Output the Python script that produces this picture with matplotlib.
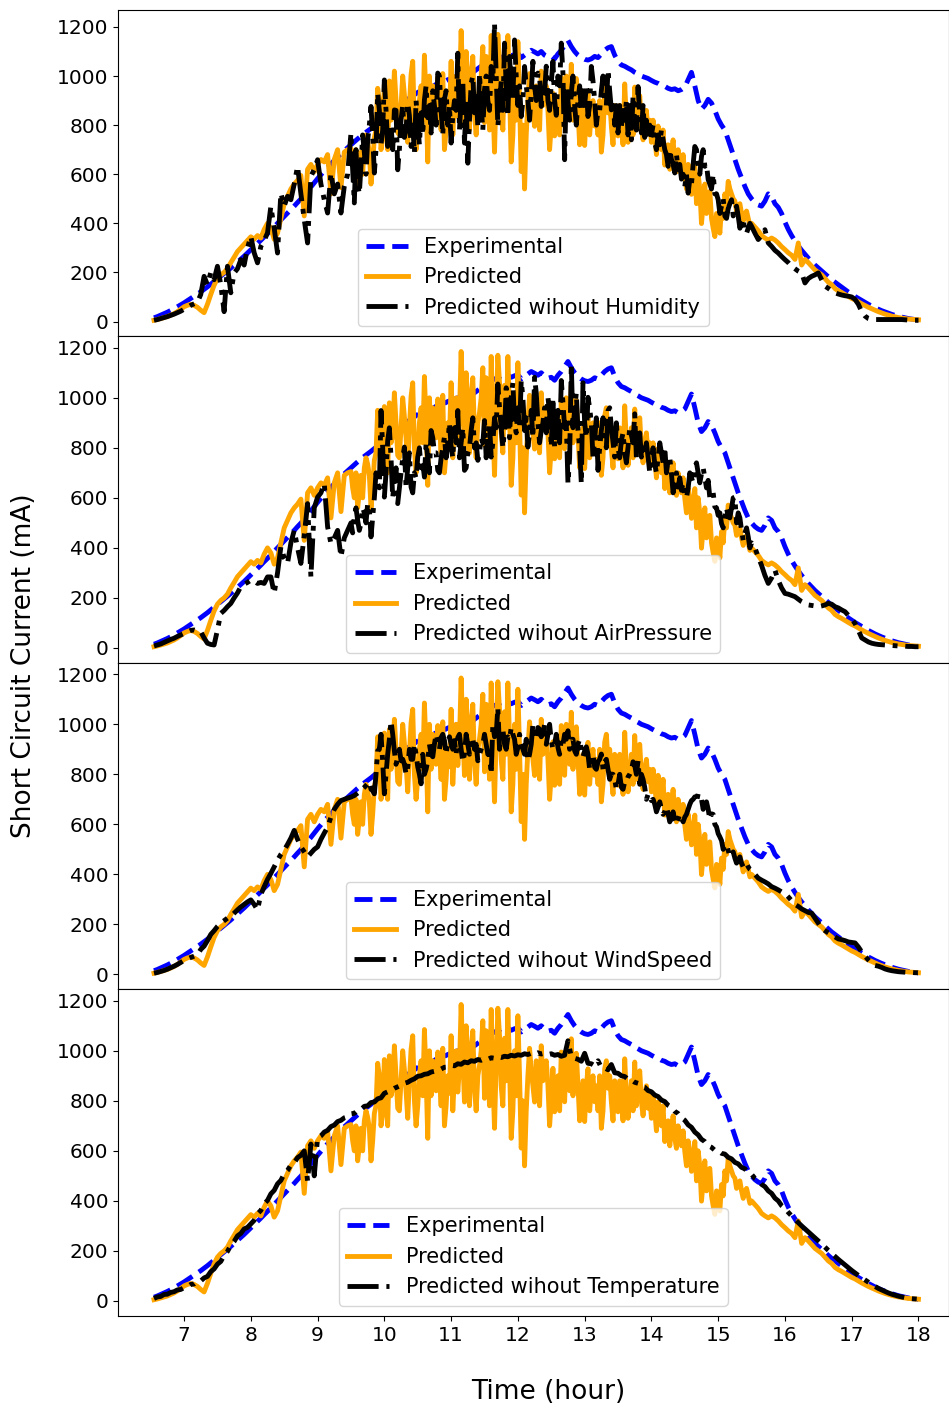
import numpy as np
import matplotlib
matplotlib.use("Agg")
import matplotlib.pyplot as plt

# Sampling times (hour of day), one reading every 3 minutes
hours = np.linspace(6.55, 18.0, 230)
# Extra readings taken half-way between samples during the noisy midday span
mid_hours = np.linspace(9.525, 15.475, 120)

experimental = [
    15, 20, 26, 32, 38, 45, 52, 60, 68, 76,
    85, 94, 103, 112, 121, 131, 141, 152, 163, 174,
    185, 196, 207, 218, 230, 242, 254, 266, 279, 292,
    305, 318, 331, 345, 358, 372, 386, 400, 414, 428,
    442, 456, 470, 485, 499, 515, 532, 548, 565, 582,
    598, 614, 628, 642, 656, 670, 683, 696, 708, 720,
    732, 744, 755, 766, 776, 786, 797, 807, 818, 830,
    842, 853, 864, 875, 886, 896, 905, 915, 924, 933,
    941, 950, 957, 945, 962, 970, 960, 978, 985, 990,
    995, 1000, 985, 1005, 1012, 1008, 1020, 1030, 1040, 1050,
    1058, 1068, 1075, 1080, 1072, 1085, 1090, 1082, 1088, 1092,
    1075, 1085, 1095, 1105, 1098, 1090, 1100, 1085, 1078, 1082,
    1070, 1090, 1105, 1125, 1145, 1120, 1100, 1085, 1075, 1068,
    1065, 1070, 1080, 1075, 1090, 1105, 1115, 1120, 1085, 1060,
    1045, 1040, 1032, 1025, 1015, 1008, 1000, 995, 990, 982,
    975, 970, 962, 958, 950, 945, 948, 940, 945, 955,
    985, 1015, 960, 900, 865, 880, 905, 890, 860, 825,
    800, 780, 740, 700, 660, 620, 585, 550, 520, 500,
    485, 475, 470, 490, 520, 510, 480, 465, 440, 405,
    375, 350, 328, 308, 290, 274, 258, 244, 230, 218,
    206, 194, 182, 170, 160, 150, 140, 130, 120, 111,
    102, 94, 86, 78, 70, 63, 56, 50, 44, 39,
    34, 29, 25, 21, 18, 15, 12, 10, 8, 6,
]

predicted = [
    5, 8, 12, 16, 20, 26, 32, 40, 50, 60,
    66, 70, 66, 58, 46, 36, 70, 110, 148, 175,
    190, 200, 215, 240, 262, 285, 300, 315, 330, 345,
    335, 350, 340, 375, 400, 380, 335, 360, 420, 480,
    510, 540, 560, 575, 595, 430, 620, 640, 610, 640,
    660, 650, 680, 520, 660, 700, 545, 690, 700, 705,
    600, 560, 690, 720, 735, 560, 750, 950, 700, 965,
    700, 820, 1020, 770, 880, 925, 730, 1005, 800, 780,
    960, 1085, 650, 820, 860, 995, 780, 700, 900, 1060,
    900, 835, 1185, 795, 900, 1020, 850, 900, 1000, 810,
    950, 1165, 690, 1170, 860, 1050, 1165, 650, 1000, 1140,
    611, 540, 900, 925, 795, 880, 1020, 940, 862, 800,
    756, 900, 995, 796, 900, 1048, 950, 862, 800, 717,
    928, 850, 796, 760, 690, 928, 850, 796, 880, 756,
    800, 968, 730, 880, 955, 860, 796, 820, 770, 730,
    760, 796, 700, 637, 720, 690, 650, 700, 620, 597,
    640, 518, 637, 600, 399, 560, 518, 420, 346, 430,
    465, 520, 571, 520, 491, 470, 440, 438, 420, 400,
    385, 370, 350, 340, 332, 340, 332, 320, 305, 293,
    280, 270, 253, 320, 230, 253, 240, 225, 210, 200,
    190, 175, 160, 150, 134, 125, 118, 110, 102, 94,
    88, 80, 72, 65, 58, 52, 46, 40, 35, 30,
    26, 22, 19, 16, 14, 12, 10, 9, 8, 7,
]
predicted_mid = [
    640, 700, 620, 600, 760, 690, 640, 780, 900, 760,
    780, 980, 850, 900, 760, 1000, 840, 880, 1060, 700,
    900, 820, 900, 1000, 960, 840, 900, 1010, 780, 830,
    760, 1000, 930, 980, 1100, 780, 1080, 760, 940, 1120,
    1080, 780, 900, 950, 1060, 780, 880, 940, 760, 820,
    900, 800, 760, 1010, 860, 960, 780, 880, 960, 700,
    930, 840, 760, 900, 1000, 840, 820, 990, 720, 880,
    860, 760, 900, 860, 900, 760, 960, 900, 720, 830,
    880, 720, 820, 800, 760, 780, 920, 740, 860, 820,
    820, 680, 760, 780, 700, 620, 740, 610, 660, 680,
    540, 600, 560, 480, 540, 480, 440, 530, 380, 440,
    360, 420, 480, 540, 500, 450, 480, 410, 450, 390,
]

without_humidity = [
    5, 8, 12, 16, 20, 25, 30, 36, 42, 50,
    58, 66, 72, 78, 110, 184, 150, 200, 170, 225,
    150, 40, 225, 117, 198, 215, 252, 230, 300, 347,
    280, 239, 306, 330, 361, 469, 380, 279, 523, 470,
    510, 496, 560, 632, 520, 415, 320, 591, 620, 659,
    560, 496, 442, 605, 520, 560, 442, 551, 600, 768,
    483, 560, 632, 690, 740, 876, 605, 930, 720, 984,
    713, 800, 862, 618, 822, 750, 890, 713, 686, 800,
    850, 903, 830, 768, 880, 1012, 860, 903, 800, 727,
    900, 1093, 903, 727, 645, 971, 850, 795, 880, 944,
    900, 1039, 1215, 795, 980, 1134, 835, 950, 1147, 880,
    835, 1039, 900, 930, 960, 1012, 876, 930, 900, 971,
    900, 1000, 1134, 659, 900, 930, 880, 903, 860, 880,
    835, 1039, 900, 862, 940, 900, 1025, 862, 800, 768,
    795, 820, 760, 740, 800, 957, 768, 750, 740, 760,
    727, 760, 781, 700, 632, 660, 605, 620, 580, 550,
    523, 560, 713, 640, 673, 632, 578, 540, 520, 496,
    470, 429, 460, 496, 450, 429, 400, 361, 380, 388,
    360, 334, 350, 374, 320, 306, 290, 279, 265, 252,
    240, 225, 215, 205, 198, 157, 175, 184, 190, 198,
    170, 144, 135, 125, 117, 112, 108, 105, 103, 100,
    90, 70, 40, 22, 12, 8, 8, 8, 8, 8,
    8, 8, 8, 8, 8, 7, 6, 5, 5, 5,
]
without_humidity_mid = [
    620, 700, 520, 760, 600, 800, 760, 700, 860, 780,
    860, 760, 700, 860, 700, 880, 780, 840, 800, 900,
    720, 760, 960, 880, 940, 800, 1000, 760, 940, 880,
    840, 860, 780, 980, 900, 820, 1000, 930, 1010, 780,
    1000, 860, 980, 1000, 880, 860, 960, 1080, 900, 1000,
    960, 900, 960, 820, 1060, 900, 1000, 960, 1040, 860,
    1060, 840, 960, 1010, 960, 820, 1000, 800, 960, 940,
    960, 880, 980, 800, 860, 1000, 880, 940, 900, 880,
    880, 860, 900, 880, 920, 780, 840, 880, 820, 800,
    800, 700, 720, 740, 680, 700, 640, 680, 640, 600,
    600, 580, 640, 700, 600, 700, 640, 560, 600, 520,
    440, 500, 420, 480, 430, 470, 380, 420, 360, 400,
]

without_airpressure = [
    8, 12, 16, 22, 28, 34, 39, 46, 52, 58,
    64, 70, 72, 68, 65, 40, 19, 14, 12, 72,
    138, 150, 165, 178, 200, 220, 245, 255, 262, 271,
    268, 258, 262, 258, 284, 284, 218, 300, 404, 360,
    338, 420, 470, 400, 338, 450, 577, 284, 560, 603,
    620, 657, 484, 417, 440, 470, 364, 440, 470, 500,
    524, 510, 497, 540, 577, 444, 600, 657, 949, 603,
    829, 760, 670, 577, 700, 803, 720, 643, 700, 763,
    720, 683, 760, 869, 780, 710, 760, 843, 820, 803,
    880, 949, 820, 710, 780, 869, 800, 750, 840, 909,
    840, 763, 920, 1055, 880, 869, 950, 1002, 900, 960,
    1069, 869, 803, 950, 1082, 900, 869, 960, 1002, 803,
    803, 950, 1069, 880, 657, 1135, 950, 869, 657, 900,
    1002, 900, 830, 710, 869, 850, 949, 880, 763, 800,
    829, 780, 803, 850, 936, 800, 763, 780, 763, 760,
    736, 760, 780, 803, 750, 696, 660, 643, 630, 617,
    640, 680, 723, 700, 696, 680, 670, 620, 564, 530,
    497, 520, 524, 560, 603, 540, 470, 460, 444, 420,
    400, 364, 330, 290, 258, 280, 311, 270, 240, 218,
    215, 210, 205, 195, 185, 178, 172, 170, 168, 165,
    168, 172, 178, 175, 165, 160, 152, 145, 130, 115,
    98, 70, 40, 32, 24, 19, 16, 14, 13, 12,
    11, 10, 9, 8, 7, 7, 6, 6, 5, 5,
]
without_airpressure_mid = [
    460, 560, 470, 560, 500, 560, 520, 700, 640, 800,
    700, 880, 600, 720, 640, 760, 640, 780, 620, 680,
    800, 740, 820, 700, 840, 780, 700, 800, 760, 900,
    760, 820, 760, 880, 720, 800, 920, 820, 780, 820,
    760, 900, 820, 880, 960, 800, 1040, 840, 1060, 860,
    880, 1000, 920, 860, 840, 1020, 820, 900, 860, 940,
    1000, 860, 820, 980, 900, 760, 880, 1020, 800, 1060,
    840, 960, 760, 920, 800, 920, 800, 960, 820, 900,
    760, 860, 740, 880, 820, 760, 860, 800, 820, 700,
    800, 700, 820, 740, 700, 760, 620, 700, 680, 660,
    600, 700, 660, 740, 660, 720, 640, 600, 620, 560,
    540, 480, 560, 520, 600, 500, 520, 430, 480, 400,
]

without_windspeed = [
    5, 8, 12, 16, 21, 27, 33, 40, 48, 56,
    62, 68, 73, 78, 100, 113, 135, 160, 175, 192,
    205, 215, 225, 232, 245, 258, 270, 280, 290, 298,
    280, 258, 320, 351, 380, 404, 430, 457, 480, 497,
    520, 545, 576, 540, 510, 490, 470, 485, 500, 510,
    540, 565, 589, 629, 660, 680, 695, 700, 705, 709,
    715, 725, 735, 748, 762, 740, 722, 894, 960, 722,
    880, 1013, 894, 870, 854, 840, 828, 860, 921, 830,
    762, 800, 854, 880, 921, 930, 947, 935, 930, 921,
    935, 947, 900, 881, 920, 947, 900, 854, 900, 960,
    880, 801, 950, 1066, 980, 921, 950, 987, 940, 907,
    921, 880, 854, 920, 960, 987, 950, 1000, 960, 934,
    920, 907, 940, 960, 974, 940, 894, 920, 900, 894,
    880, 860, 828, 850, 881, 850, 820, 801, 780, 760,
    748, 770, 790, 815, 835, 854, 800, 748, 720, 695,
    680, 669, 660, 650, 642, 630, 616, 620, 625, 629,
    660, 695, 710, 722, 700, 682, 660, 642, 600, 563,
    535, 515, 497, 480, 465, 457, 445, 438, 430, 415,
    400, 385, 377, 370, 362, 351, 345, 338, 330, 324,
    310, 295, 280, 272, 262, 255, 248, 245, 225, 205,
    185, 175, 166, 158, 150, 142, 139, 135, 130, 128,
    126, 110, 90, 73, 58, 45, 36, 33, 28, 22,
    18, 15, 13, 11, 10, 9, 8, 8, 7, 7,
]
without_windspeed_mid = [
    712, 720, 730, 742, 755, 770, 735, 800, 900, 850,
    800, 940, 960, 840, 900, 860, 800, 900, 860, 880,
    800, 880, 820, 920, 870, 960, 900, 960, 880, 950,
    900, 880, 960, 850, 960, 880, 940, 920, 880, 920,
    920, 880, 1000, 960, 900, 980, 900, 940, 960, 880,
    960, 900, 940, 880, 1000, 940, 980, 960, 920, 1000,
    900, 960, 880, 920, 940, 900, 940, 880, 940, 870,
    910, 820, 880, 820, 860, 820, 860, 780, 800, 740,
    800, 740, 770, 800, 850, 800, 760, 780, 700, 720,
    700, 650, 690, 640, 670, 610, 650, 600, 640, 610,
    640, 680, 700, 690, 720, 660, 690, 620, 640, 590,
    550, 500, 520, 470, 490, 445, 470, 430, 445, 420,
]

without_temperature = [
    10, 16, 18, 26, 27, 34, 37, 44, 46, 53,
    57, 66, 68, 78, 80, 92, 98, 117, 128, 147,
    158, 182, 198, 222, 238, 260, 270, 288, 294, 308,
    322, 348, 362, 388, 402, 428, 442, 468, 482, 508,
    522, 543, 552, 573, 582, 600, 480, 627, 500, 652,
    660, 675, 682, 697, 703, 717, 722, 732, 736, 748,
    750, 762, 765, 778, 780, 793, 795, 808, 812, 830,
    836, 842, 850, 856, 862, 870, 874, 882, 888, 898,
    900, 906, 908, 915, 918, 925, 927, 934, 935, 942,
    940, 948, 946, 955, 952, 960, 958, 965, 962, 968,
    966, 972, 970, 976, 973, 978, 976, 982, 979, 984,
    982, 988, 985, 990, 986, 992, 987, 990, 985, 988,
    982, 985, 978, 982, 1040, 976, 970, 966, 958, 990,
    950, 948, 940, 960, 933, 932, 924, 945, 912, 910,
    900, 897, 886, 884, 874, 870, 858, 854, 841, 836,
    823, 817, 803, 797, 782, 774, 758, 749, 732, 722,
    704, 694, 675, 664, 646, 637, 620, 614, 602, 600,
    590, 587, 574, 568, 554, 548, 534, 528, 513, 506,
    490, 482, 466, 457, 440, 430, 411, 400, 381, 370,
    354, 340, 326, 313, 300, 288, 276, 264, 252, 240,
    228, 215, 202, 190, 178, 166, 155, 144, 133, 122,
    112, 102, 93, 84, 75, 66, 58, 50, 44, 38,
    32, 27, 23, 19, 16, 13, 11, 9, 8, 7,
]

removed_inputs = ["Humidity", "AirPressure", "WindSpeed", "Temperature"]
ablation_runs = [
    (without_humidity, without_humidity_mid),
    (without_airpressure, without_airpressure_mid),
    (without_windspeed, without_windspeed_mid),
    (without_temperature, None),
]
x_ticks = [7, 8, 9, 10, 11, 12, 13, 14, 15, 16, 17, 18]
y_ticks = [0, 200, 400, 600, 800, 1000, 1200]
y_limits = [(-61, 1269), (-60, 1245), (-60, 1245), (-60, 1245)]


def merge_readings(base, extra):
    """Combine the regular readings with the optional half-step readings."""
    if extra is None:
        return hours, np.asarray(base, dtype=float)
    t = np.concatenate([hours, mid_hours])
    v = np.concatenate([base, extra]).astype(float)
    order = np.argsort(t, kind="stable")
    return t[order], v[order]


pred_t, pred_v = merge_readings(predicted, predicted_mid)

fig, axes = plt.subplots(4, 1, figsize=(9.49, 14.07), dpi=100, sharex=True)
fig.subplots_adjust(left=0.1243, right=0.9995, top=0.9929, bottom=0.0647,
                    hspace=0)

for ax, name, (run, run_mid), ylim in zip(axes, removed_inputs,
                                          ablation_runs, y_limits):
    run_t, run_v = merge_readings(run, run_mid)
    ax.plot(hours, experimental, color="blue", linestyle="--", linewidth=3.5,
            label="Experimental")
    ax.plot(pred_t, pred_v, color="orange", linestyle="-", linewidth=3.5,
            label="Predicted")
    ax.plot(run_t, run_v, color="black", linestyle="-.", linewidth=3.5,
            label=f"Predicted wihout {name}")
    ax.set_xlim(6.01, 18.45)
    ax.set_ylim(*ylim)
    ax.set_yticks(y_ticks)
    ax.tick_params(axis="both", labelsize=14.5)
    ax.legend(loc="lower center", fontsize=15)

axes[-1].set_xticks(x_ticks)

fig.text(24 / 949, 0.527, "Short Circuit Current (mA)", rotation=90,
         ha="center", va="center", fontsize=19)
fig.text(548 / 949, 1 - 1392 / 1407, "Time (hour)", ha="center",
         va="center", fontsize=19)

fig.savefig("out.png", dpi=100)
